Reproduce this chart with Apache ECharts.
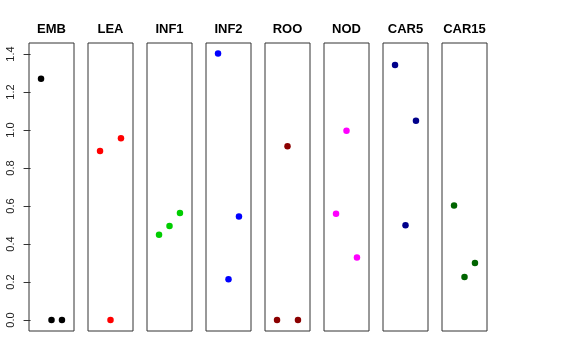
<!DOCTYPE html>
<html><head><meta charset="utf-8">
<script src="https://cdn.jsdelivr.net/npm/echarts@6/dist/echarts.min.js"></script>
<style>html,body{margin:0;padding:0;background:#fff}#c{width:576px;height:360px}</style>
</head><body><div id="c"></div>
<script>
const panels = ['EMB','LEA','INF1','INF2','ROO','NOD','CAR5','CAR15'];
const colors = ['#000000','#FF0000','#00CD00','#0000FF','#8B0000','#FF00FF','#00008B','#006400'];
const xPositions = [1, 2, 3];
const EMB = [1.27, 0.0, 0.0];
const LEA = [0.889, 0.0, 0.956];
const INF1 = [0.449, 0.495, 0.563];
const INF2 = [1.403, 0.214, 0.545];
const ROO = [0.0, 0.914, 0.0];
const NOD = [0.559, 0.996, 0.329];
const CAR5 = [1.342, 0.498, 1.049];
const CAR15 = [0.603, 0.226, 0.300];
const yTicks = [0, 0.2, 0.4, 0.6, 0.8, 1.0, 1.2, 1.4];
const values = [EMB, LEA, INF1, INF2, ROO, NOD, CAR5, CAR15];

const gLeft0 = 29, gStep = 59, gW = 45, gTop = 43, gH = 288;
const grid = [], xAxis = [], yAxis = [], series = [], graphic = [];
panels.forEach((name, i) => {
  const l = gLeft0 + gStep * i;
  grid.push({left: l, top: gTop, width: gW, height: gH, show: true, borderColor: '#333', borderWidth: 1, backgroundColor: 'transparent'});
  xAxis.push({type: 'value', gridIndex: i, min: -0.15, max: 4.15, show: false});
  yAxis.push({
    type: 'value', gridIndex: i, min: -0.058, max: 1.458,
    show: i === 0,
    splitLine: {show: false},
    axisLine: {show: false},
    axisTick: {show: i === 0, length: 7, customValues: yTicks, lineStyle: {color: '#333'}},
    axisLabel: {show: i === 0, customValues: yTicks, rotate: 90, margin: 13,
      fontFamily: 'Liberation Sans, Arial, sans-serif', fontSize: 11, color: '#222',
      formatter: v => Number(v).toFixed(1)}
  });
  series.push({
    type: 'scatter', xAxisIndex: i, yAxisIndex: i, symbolSize: 6.5,
    itemStyle: {color: colors[i], opacity: 1},
    data: xPositions.map((x, k) => [x, values[i][k]]),
    silent: true
  });
  graphic.push({type: 'text', x: l + gW / 2, y: 29.5,
    style: {text: name, textAlign: 'center', textVerticalAlign: 'middle',
      font: 'bold 13px "Liberation Sans", Arial, sans-serif', fill: '#000'}});
});

const chart = echarts.init(document.getElementById('c'), null, {renderer: 'canvas'});
chart.setOption({animation: false, grid, xAxis, yAxis, series, graphic});
</script></body></html>
